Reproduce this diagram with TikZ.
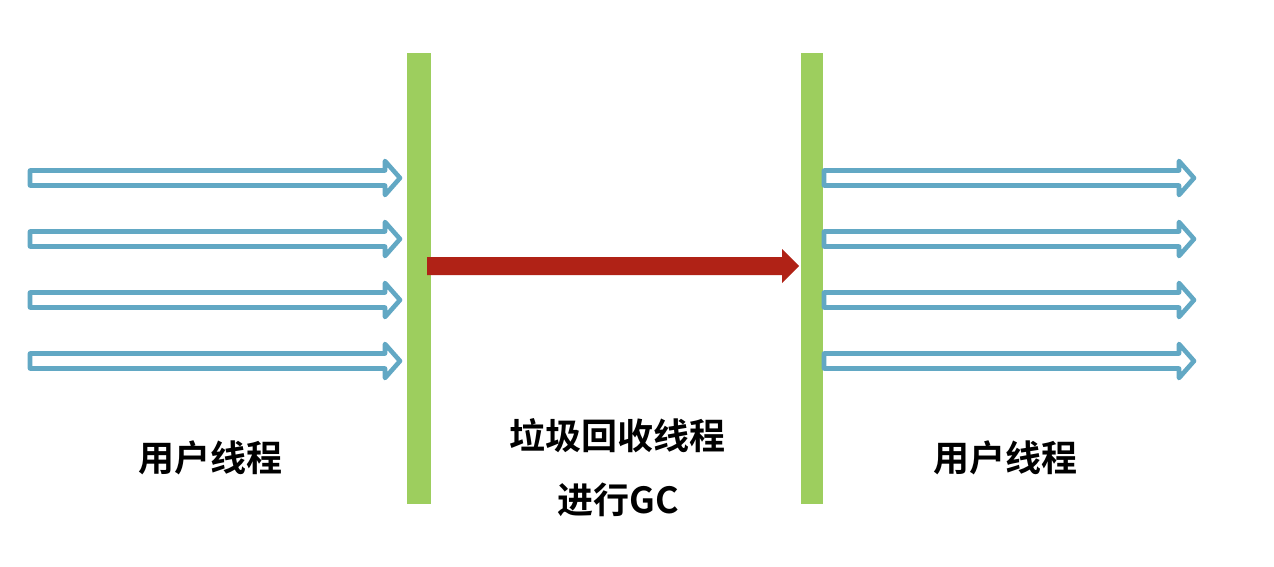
\documentclass[tikz,border=0pt]{standalone}
\usepackage{fontspec}
\newfontfamily\cjkbold{Noto Sans CJK SC Bold}
\definecolor{bargreen}{RGB}{157,206,94}
\definecolor{arrowblue}{RGB}{98,168,196}
\definecolor{gcred}{RGB}{176,34,22}
\tikzset{
  bar/.style={fill=bargreen, draw=none},
  threadarrow/.style={draw=arrowblue, fill=white, line width=4.6pt, line join=round},
  gcarrow/.style={fill=gcred, draw=none},
  label/.style={font=\cjkbold\fontsize{36}{40}\selectfont, text=black, inner sep=0pt}
}
\begin{document}
\begin{tikzpicture}[x=1pt,y=-1pt]
\useasboundingbox (0,0) rectangle (1274,566);
% bars
\fill[bar] (407,53) rectangle (431,504);
\fill[bar] (801,53) rectangle (823,504);
\coordinate (barL) at (419,278);
\coordinate (barR) at (812,278);
% left user threads
\foreach \yy in {178,239,300,361}{
  \draw[threadarrow] (30,\yy-7.5) -- (385,\yy-7.5) -- (385,\yy-17) -- (400,\yy) -- (385,\yy+17) -- (385,\yy+7.5) -- (30,\yy+7.5) -- cycle;
}
% right user threads
\foreach \yy in {178,239,300,361}{
  \draw[threadarrow] (824,\yy-7.5) -- (1179,\yy-7.5) -- (1179,\yy-17) -- (1194,\yy) -- (1179,\yy+17) -- (1179,\yy+7.5) -- (824,\yy+7.5) -- cycle;
}
% GC arrow
\fill[gcarrow] (427,257) -- (782,257) -- (782,249) -- (799,266) -- (782,283) -- (782,275) -- (427,275) -- cycle;
% labels
\node[label] (ul) at (210,458) {用户线程};
\node[label] (gc1) at (617,436) {垃圾回收线程};
\node[label] (gc2) at (618,500) {进行GC};
\node[label] (ur) at (1005,458) {用户线程};
\end{tikzpicture}
\end{document}
